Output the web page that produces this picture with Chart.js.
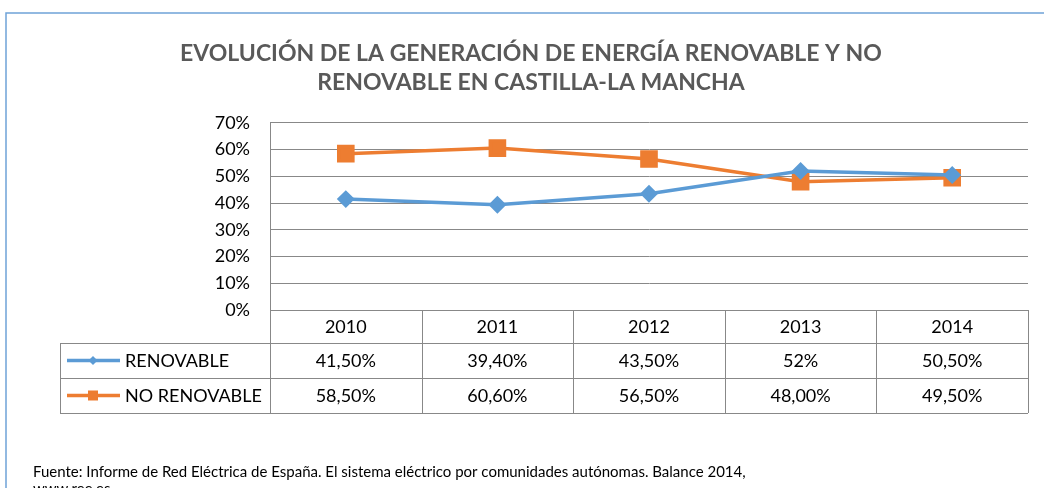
<!DOCTYPE html>
<html>
<head>
<meta charset="utf-8">
<script src="https://cdn.jsdelivr.net/npm/chart.js@4"></script>
<style>
  html, body { margin: 0; padding: 0; background: #fff; }
  canvas { display: block; }
</style>
</head>
<body>
<canvas id="energyChart" width="1044" height="488"></canvas>
<script>
// ---------------- DATOS ----------------
const years = ['2010', '2011', '2012', '2013', '2014'];
const renovable = [41.5, 39.4, 43.5, 52, 50.5];
const noRenovable = [58.5, 60.6, 56.5, 48, 49.5];
const renovableText = ['41,50%', '39,40%', '43,50%', '52%', '50,50%'];
const noRenovableText = ['58,50%', '60,60%', '56,50%', '48,00%', '49,50%'];
const seriesNames = ['RENOVABLE', 'NO RENOVABLE'];
const titleLines = ['EVOLUCIÓN DE LA GENERACIÓN DE ENERGÍA RENOVABLE Y NO', 'RENOVABLE EN CASTILLA-LA MANCHA'];
const sourceLines = ['Fuente: Informe de Red Eléctrica de España. El sistema eléctrico por comunidades autónomas. Balance 2014,', 'www.ree.es'];

const BLUE = '#5B9BD5';
const ORANGE = '#ED7D31';
const GRID = '#888888';
const FONT = 'Lato, "Open Sans", sans-serif';

// ---------------- Plugins ----------------
// marco exterior del gráfico
const frame = {
  id: 'frame',
  beforeDraw(chart) {
    const ctx = chart.ctx;
    ctx.save();
    ctx.strokeStyle = '#6FA3D8';
    ctx.lineWidth = 1.5;
    ctx.beginPath();
    ctx.moveTo(6, chart.height);
    ctx.lineTo(6, 13);
    ctx.lineTo(chart.width, 13);
    ctx.stroke();
    ctx.restore();
  }
};

// tabla de datos bajo el eje X
const dataTable = {
  id: 'dataTable',
  afterDraw(chart) {
    const { ctx, chartArea } = chart;
    const x = chart.scales.x;
    const colW = chartArea.width / years.length;
    const top = chartArea.bottom;
    const rows = [top, top + 33, top + 68, top + 103];
    const tableLeft = 60;

    ctx.save();
    ctx.strokeStyle = GRID;
    ctx.lineWidth = 1;

    // horizontales
    const hline = (y, x0) => {
      ctx.beginPath();
      ctx.moveTo(x0, Math.round(y) + 0.5);
      ctx.lineTo(chartArea.right, Math.round(y) + 0.5);
      ctx.stroke();
    };
    hline(rows[0], chartArea.left);
    hline(rows[1], tableLeft);
    hline(rows[2], tableLeft);
    hline(rows[3], tableLeft);

    // verticales
    const vline = (xx, y0, y1) => {
      ctx.beginPath();
      ctx.moveTo(Math.round(xx) + 0.5, y0);
      ctx.lineTo(Math.round(xx) + 0.5, y1);
      ctx.stroke();
    };
    vline(tableLeft, rows[1], rows[3]);
    years.forEach((_, i) => vline(x.getPixelForValue(i) - colW / 2, rows[0], rows[3]));
    vline(chartArea.right, rows[0], rows[3]);

    // textos
    ctx.fillStyle = '#000';
    ctx.font = '18px ' + FONT;
    ctx.textAlign = 'center';
    ctx.textBaseline = 'middle';
    years.forEach((yr, i) => {
      const cx = x.getPixelForValue(i);
      ctx.fillText(yr, cx, (rows[0] + rows[1]) / 2 + 1);
      ctx.fillText(renovableText[i], cx, (rows[1] + rows[2]) / 2 + 1);
      ctx.fillText(noRenovableText[i], cx, (rows[2] + rows[3]) / 2 + 1);
    });

    // leyenda dentro de la tabla
    const legendRow = (y, color, style, name) => {
      ctx.strokeStyle = color;
      ctx.fillStyle = color;
      ctx.lineWidth = 3.5;
      ctx.beginPath();
      ctx.moveTo(67, y);
      ctx.lineTo(120, y);
      ctx.stroke();
      if (style === 'diamond') {
        ctx.beginPath();
        ctx.moveTo(93, y - 4.5);
        ctx.lineTo(97.5, y);
        ctx.lineTo(93, y + 4.5);
        ctx.lineTo(88.5, y);
        ctx.closePath();
        ctx.fill();
      } else {
        ctx.fillRect(88, y - 5, 10, 10);
      }
      ctx.fillStyle = '#000';
      ctx.textAlign = 'left';
      ctx.fillText(name, 125, y + 1);
    };
    legendRow((rows[1] + rows[2]) / 2, BLUE, 'diamond', seriesNames[0]);
    legendRow((rows[2] + rows[3]) / 2, ORANGE, 'square', seriesNames[1]);

    // fuente
    ctx.fillStyle = '#000';
    ctx.font = '15px ' + FONT;
    ctx.textAlign = 'left';
    ctx.textBaseline = 'alphabetic';
    ctx.fillText(sourceLines[0], 33, 477);
    ctx.fillText(sourceLines[1], 33, 494);
    ctx.restore();
  }
};

// ---------------- Gráfico ----------------
const ctx = document.getElementById('energyChart').getContext('2d');

new Chart(ctx, {
  type: 'line',
  data: {
    labels: years,
    datasets: [
      {
        label: seriesNames[0],
        data: renovable,
        borderColor: BLUE,
        backgroundColor: BLUE,
        borderWidth: 3.5,
        pointStyle: 'rectRot',
        pointRadius: 6.5,
        tension: 0
      },
      {
        label: seriesNames[1],
        data: noRenovable,
        borderColor: ORANGE,
        backgroundColor: ORANGE,
        borderWidth: 3.5,
        pointStyle: 'rect',
        pointRadius: 10,
        tension: 0
      }
    ]
  },
  options: {
    responsive: false,
    animation: false,
    layout: { padding: { left: 34, right: 16, top: 0, bottom: 178 } },
    plugins: {
      legend: { display: false },
      tooltip: { enabled: false },
      title: {
        display: true,
        text: titleLines,
        color: '#595959',
        font: { family: FONT, size: 23, weight: 'bold', lineHeight: 1.26 },
        padding: { top: 39, bottom: 26 }
      }
    },
    scales: {
      x: {
        display: false,
        offset: true
      },
      y: {
        min: 0,
        max: 70,
        afterFit: (scale) => { scale.width = 236; },
        ticks: {
          stepSize: 10,
          padding: 20,
          color: '#000',
          font: { family: FONT, size: 18 },
          callback: (v) => v + '%'
        },
        grid: { color: GRID, drawTicks: false },
        border: { display: true, color: GRID }
      }
    }
  },
  plugins: [frame, dataTable]
});
</script>
</body>
</html>
